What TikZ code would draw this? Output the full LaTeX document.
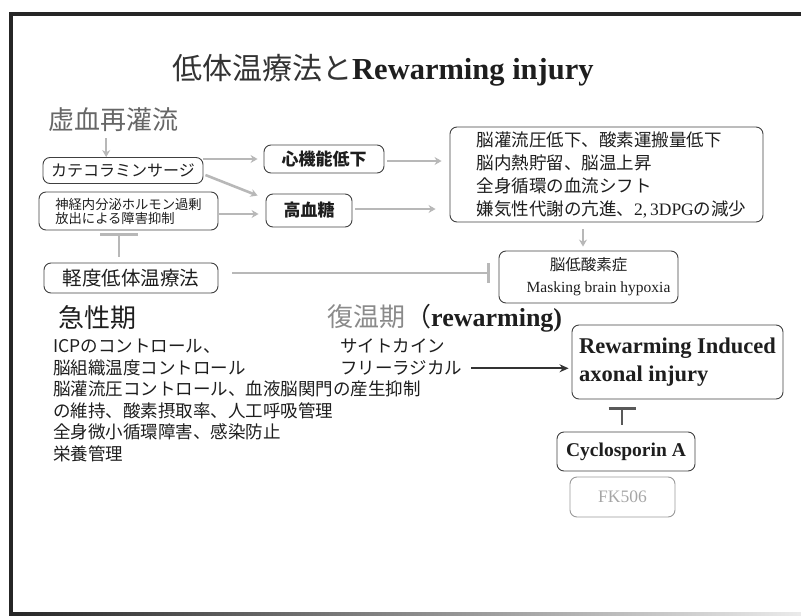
\documentclass[tikz,border=0pt]{standalone}
\usepackage{fontspec}
\setmainfont{Liberation Serif}
\newfontfamily\jp{Noto Sans CJK JP}
\usetikzlibrary{arrows.meta,calc}
\definecolor{conn}{HTML}{B8B8B8}
\definecolor{boxline}{HTML}{404040}
\definecolor{txt}{HTML}{1E1E1E}
\definecolor{headgray}{HTML}{666666}
\definecolor{lightgray}{HTML}{8A8A8A}
\newcommand{\myfs}[2]{\fontsize{#1}{#2}\selectfont}
\begin{document}
\begin{tikzpicture}[x=1pt,y=-1pt,
  box/.style={draw=boxline, line width=0.9pt, rounded corners=7pt, inner sep=0pt, text=txt},
  garrow/.style={draw=conn, line width=2.6pt, -{Stealth[length=7pt,width=8pt]}},
  ginh/.style={draw=conn, line width=2.6pt, -{Bar[width=20pt,line width=2.6pt]}},
  plain/.style={inner sep=0pt, text=txt}
]
\useasboundingbox (0,0) rectangle (801,616);
% frame
\fill[black!85] (10,12) rectangle (801,16);
\fill[black!85] (9,12) rectangle (13,615);
\shade[left color=black!85, right color=black!8] (9,612) rectangle (801,615);

% title
\node[plain, anchor=west] (title) at (172,70) {\myfs{30}{34}{\jp\color{black!80}低体温療法と}\textbf{\myfs{30.5}{34}Rewarming injury}};

% headings
\node[plain, anchor=west, text=headgray, font=\jp\myfs{26}{30}] (h1) at (48,120) {虚血再灌流};
\node[plain, anchor=west, font=\jp\myfs{26}{30}] (h2) at (58,318) {急性期};
\node[plain, anchor=west] (h3) at (327,318) {\myfs{26}{30}{\jp\color{lightgray}復温期}{\jp （}\textbf{rewarming)}};

% boxes
\node[box, minimum width=160pt, minimum height=26pt, font=\jp\myfs{16}{18}] (cat) at (123,170.5) {カテコラミンサージ};
\node[box, minimum width=179pt, minimum height=38pt, align=left, font=\jp\myfs{13.3}{14}] (neuro) at (128.5,211) {神経内分泌ホルモン過剰\\放出による障害抑制};
\node[box, minimum width=120pt, minimum height=28pt, font=\jp\bfseries\myfs{17}{19}] (heart) at (324,159) {心機能低下};
\node[box, minimum width=86pt, minimum height=33pt, font=\jp\bfseries\myfs{17}{19}] (hyper) at (309,210.5) {高血糖};
\node[box, minimum width=313pt, minimum height=95pt, align=left, font=\jp\myfs{17.5}{23}] (big) at (606.5,174.5) {\hspace*{10pt}脳灌流圧低下、酸素運搬量低下\\\hspace*{10pt}脳内熱貯留、脳温上昇\\\hspace*{10pt}全身循環の血流シフト\\\hspace*{10pt}嫌気性代謝の亢進、{\rmfamily 2,\,3DPG}の減少};
\node[box, minimum width=179pt, minimum height=52pt, align=center, font=\myfs{15.5}{22}] (hypox) at (588.5,277) {{\jp 脳低酸素症}\\\hspace*{20pt}Masking brain hypoxia};
\node[box, minimum width=174pt, minimum height=30pt, font=\jp\myfs{19.5}{22}] (mild) at (131,278) {軽度低体温療法};
\node[box, minimum width=211pt, minimum height=74pt, align=left, font=\bfseries\myfs{22.5}{28}] (rwi) at (677.5,362) {Rewarming Induced\\axonal injury};
\node[box, minimum width=138pt, minimum height=39pt, font=\bfseries\myfs{19.5}{22}] (cyclo) at (626,451.5) {Cyclosporin A};
\node[box, draw=black!40, minimum width=105pt, minimum height=40pt, text=black!35, font=\myfs{17.5}{20}] (fk) at (622.5,497) {FK506};

% lists
\node[plain, anchor=north west, align=left, font=\jp\myfs{17.5}{21.5}] (llist) at (53,339) {ICPのコントロール、\\脳組織温度コントロール\\脳灌流圧コントロール、血液脳関門\\の維持、酸素摂取率、人工呼吸管理\\全身微小循環障害、感染防止\\栄養管理};
\node[plain, anchor=north west, align=left, font=\jp\myfs{17.5}{21.5}] (rlist) at (333,339) {\hspace*{7pt}サイトカイン\\\hspace*{7pt}フリーラジカル\\の産生抑制};

% connectors
\draw[garrow, line width=2pt] ([xshift=-7pt,yshift=-6pt]h1.south) -- ([xshift=-7pt]h1.south |- cat.north);
\draw[garrow] (cat.east |- heart.west) -- ([xshift=-6pt]heart.west);
\draw[garrow] ([xshift=2pt,yshift=-4.5pt]cat.east) -- ([xshift=-8pt,yshift=-2pt]hyper.north west);
\draw[garrow] ([xshift=1pt,yshift=-3pt]neuro.east) -- ([xshift=-7pt,yshift=-3pt]neuro.east -| hyper.west);
\draw[garrow] ([xshift=3pt,yshift=-2pt]heart.east) -- ([xshift=-8pt,yshift=-2pt]heart.east -| big.west);
\draw[garrow] ([xshift=3pt,yshift=1.5pt]hyper.east) -- ([xshift=-14pt,yshift=1.5pt]hyper.east -| big.west);
\draw[garrow, line width=2pt] ([xshift=-5.5pt,yshift=-7pt]hypox.north |- big.south) -- ([xshift=-5.5pt,yshift=4pt]hypox.north);
\draw[ginh] ([xshift=14pt,yshift=5pt]mild.east) -- ([xshift=-9pt,yshift=5pt]mild.east -| hypox.west);
\draw[ginh, -{Bar[width=38pt,line width=2.6pt]}] ([xshift=-12pt,yshift=6pt]mild.north) -- ([xshift=-12pt,yshift=-3pt]mild.north |- neuro.south);
\draw[draw=black!80, line width=2.2pt, -{Stealth[length=9pt,width=8pt]}] ([xshift=8.5pt]rlist.east) -- ([xshift=-3pt]rlist.east -| rwi.west);
\draw[draw=black!65, line width=2.2pt, -{Bar[width=27pt,line width=2.2pt]}] ([xshift=-4pt,yshift=7pt]cyclo.north) -- ([xshift=-4pt,yshift=-8pt]cyclo.north |- rwi.south);
\end{tikzpicture}
\end{document}
